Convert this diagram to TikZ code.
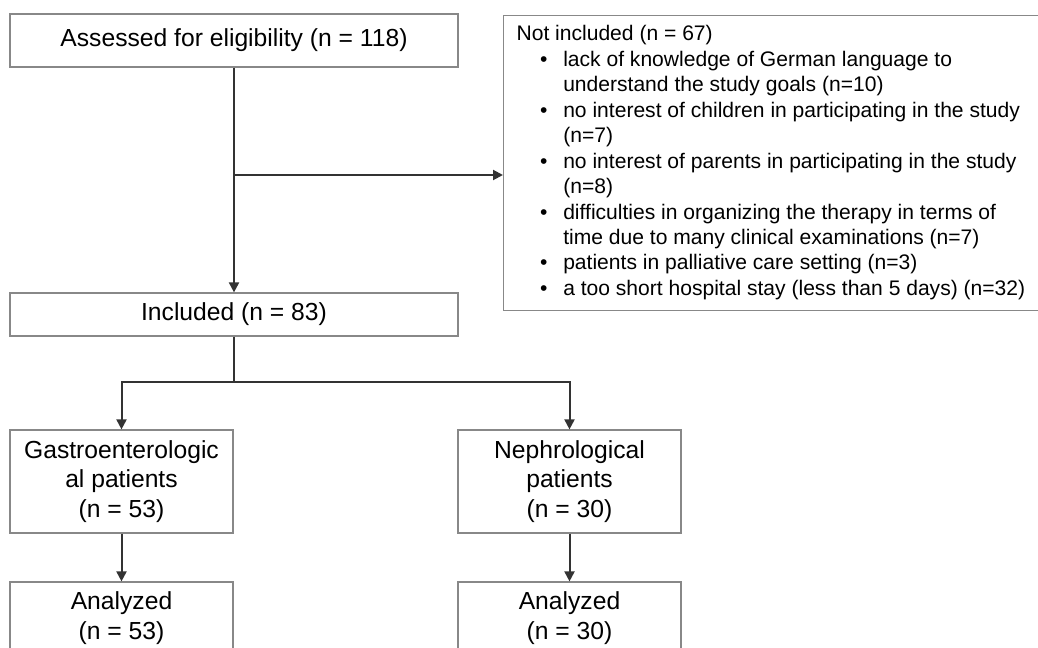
\documentclass[tikz,border=0pt]{standalone}
\usepackage{fontspec}
\setmainfont{Liberation Sans}
\usepackage{tikz}
\usetikzlibrary{arrows.meta}

\definecolor{linegray}{HTML}{333333}
\definecolor{framegray}{HTML}{888888}
\newcommand{\reasonbullet}{\hspace*{17.6pt}\textbullet}

\begin{document}
\begin{tikzpicture}[x=0.75pt, y=-0.75pt, >={Triangle[length=7.5pt,width=7.5pt]},
    box/.style={draw=framegray, line width=0.9pt, align=center, inner sep=0pt,
      font=\fontsize{18.5}{22}\selectfont},
    flow/.style={draw=linegray, line width=1.5pt}]
  \useasboundingbox (0,0) rectangle (1038,648);

  % Screening
  \node[box, minimum width=336pt, minimum height=39.75pt] (elig) at (234,40.5)
    {Assessed for eligibility (n = 118)};
  \node[box, anchor=north west, inner xsep=9.75pt, inner ysep=5.5pt,
    font=\fontsize{15.8}{19.1}\selectfont] (excl) at (503,15) {%
    \begin{tabular}{@{}p{35pt}@{}p{350.5pt}@{}}
      \multicolumn{2}{@{}l@{}}{Not included (n = 67)}\\
      \reasonbullet & lack of knowledge of German language to\\
       & understand the study goals (n=10)\\
      \reasonbullet & no interest of children in participating in the study\\
       & (n=7)\\
      \reasonbullet & no interest of parents in participating in the study\\
       & (n=8)\\
      \reasonbullet & difficulties in organizing the therapy in terms of\\
       & time due to many clinical examinations (n=7)\\
      \reasonbullet & patients in palliative care setting (n=3)\\
      \reasonbullet & a too short hospital stay (less than 5 days) (n=32)
    \end{tabular}};

  % Inclusion
  \node[box, minimum width=336pt, minimum height=32.25pt] (incl) at (234,314.5)
    {Included (n = 83)};

  % Groups
  \node[box, minimum width=167.25pt, minimum height=77.25pt] (gastro) at (121.5,481.5)
    {Gastroenterologic\\al patients\\(n = 53)};
  \node[box, minimum width=167.25pt, minimum height=77.25pt] (nephro) at (569.5,481.5)
    {Nephrological\\patients\\(n = 30)};

  % Analysis
  \node[box, minimum width=167.25pt, minimum height=54pt] (anagastro) at (121.5,618)
    {Analyzed\\(n = 53)};
  \node[box, minimum width=167.25pt, minimum height=54pt] (ananephro) at (569.5,618)
    {Analyzed\\(n = 30)};

  % Connectors
  \coordinate (split) at (234,175);
  \coordinate (fork) at (234,382);
  \draw[flow,->] (elig.south) -- (incl.north);
  \draw[flow,->] (split) -- (split -| excl.west);
  \draw[flow] (incl.south) -- (fork);
  \draw[flow,->] (fork) -| (gastro.north);
  \draw[flow,->] (fork) -| (nephro.north);
  \draw[flow,->] (gastro.south) -- (anagastro.north);
  \draw[flow,->] (nephro.south) -- (ananephro.north);
\end{tikzpicture}
\end{document}
